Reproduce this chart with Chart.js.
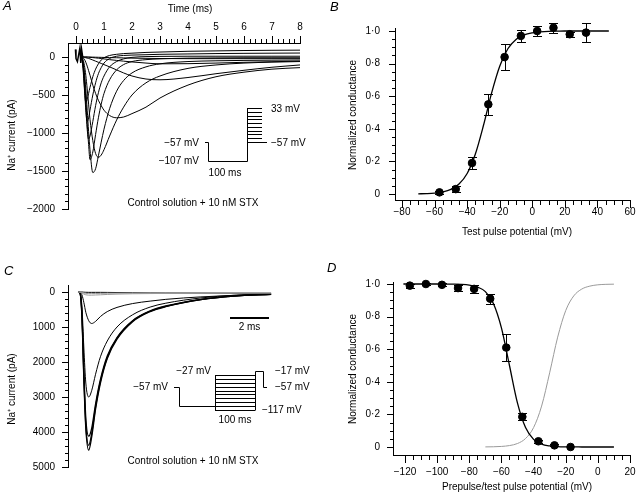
<!DOCTYPE html>
<html>
<head>
<meta charset="utf-8">
<script src="https://cdn.jsdelivr.net/npm/chart.js@4.4.0/dist/chart.umd.min.js"></script>
<style>
  body { margin: 0; background: #fff; }
  #wrap { position: relative; width: 639px; height: 495px; }
  #wrap canvas { position: absolute; left: 0; top: 0; }
  #note { position: absolute; left: 630px; top: 486px; font: 8px monospace; color: #fff; white-space: pre; }
</style>
</head>
<body>
<div id="wrap">
  <canvas id="chartA" width="639" height="495"></canvas>
  <canvas id="chartB" width="639" height="495"></canvas>
  <canvas id="chartC" width="639" height="495"></canvas>
  <canvas id="chartD" width="639" height="495"></canvas>
  <div id="note"></div>
</div>
<script>
// ---- Panel A: Na+ currents, test pulses -57 .. +33 mV (pA vs ms)
const A_T = [0.2, 0.25, 0.3, 0.35, 0.4, 0.45, 0.5, 0.6, 0.7, 0.8, 0.9, 1.0, 1.2, 1.45, 1.7, 2.0, 2.5, 3, 4, 5, 6, 7, 8];
const A_P33  = [0, -150, -420, -600, -560, -480, -400, -260, -160, -90, -40, -10, 20, 35, 45, 50, 60, 65, 75, 80, 85, 88, 90];
const A_P23  = [0, -120, -380, -700, -850, -800, -700, -500, -340, -220, -140, -80, -20, 10, 20, 25, 30, 35, 40, 45, 48, 50, 52];
const A_P13  = [0, -100, -320, -650, -950, -1080, -1040, -850, -640, -470, -340, -250, -130, -60, -25, -5, 5, 8, 10, 10, 10, 10, 10];
const A_P3   = [0, -80, -260, -550, -880, -1150, -1350, -1250, -1020, -800, -620, -480, -300, -170, -100, -60, -35, -25, -15, -12, -10, -10, -10];
const A_M7   = [0, -60, -200, -420, -700, -980, -1220, -1520, -1470, -1300, -1120, -950, -680, -450, -310, -210, -130, -90, -60, -50, -45, -42, -40];
const A_M17  = [0, -30, -110, -240, -420, -620, -820, -1100, -1270, -1320, -1290, -1220, -1040, -830, -660, -500, -340, -250, -150, -105, -80, -68, -60];
const A_M27  = [0, -10, -30, -70, -120, -180, -240, -370, -480, -570, -640, -700, -770, -800, -790, -745, -660, -540, -370, -260, -200, -160, -140];
const A_M37  = [0, 0, -5, -10, -15, -20, -25, -40, -55, -70, -85, -100, -130, -170, -210, -250, -290, -300, -270, -220, -175, -135, -105];
const A_M47  = [0, 0, 0, 0, -2, -3, -5, -8, -12, -16, -20, -25, -35, -45, -55, -65, -80, -90, -88, -80, -70, -62, -55];
const A_M57  = [0, 0, 0, 0, 0, 0, -1, -2, -3, -4, -5, -6, -8, -10, -12, -15, -18, -20, -22, -22, -22, -22, -22];
const A_ART_T = [-0.02, 0.0, 0.05, 0.14, 0.17, 0.2, 0.24];
const A_ART_I = [100, -20, -60, 120, -80, 100, 0];
const A_X_TICKS = [0, 1, 2, 3, 4, 5, 6, 7, 8];
const A_Y_TICKS = [-2000, -1500, -1000, -500, 0];
const A_STEPS = [33, 23, 13, 3, -7, -17, -27, -37, -47, -57];

// ---- Panel B: activation (normalized conductance vs test potential)
const B_V   = [-57, -47, -37, -27, -17, -7, 3, 13, 23, 33];
const B_G   = [0.01, 0.03, 0.19, 0.55, 0.84, 0.97, 1.0, 1.02, 0.98, 0.99];
const B_ERR = [0.01, 0.02, 0.035, 0.065, 0.08, 0.035, 0.028, 0.03, 0.015, 0.06];
const B_FIT_V = [-70, -65, -60, -55, -50, -45, -40, -35, -30, -25, -20, -15, -10, -5, 0, 5, 10, 15, 20, 25, 30, 35, 40, 47];
const B_FIT_G = [0.0011, 0.0026, 0.0057, 0.0127, 0.028, 0.061, 0.126, 0.244, 0.42, 0.619, 0.784, 0.891, 0.948, 0.976, 0.989, 0.995, 0.998, 0.999, 1, 1, 1, 1, 1, 1];
const B_X_TICKS = [-80, -60, -40, -20, 0, 20, 40, 60];
const B_Y_TICKS = [0, 0.2, 0.4, 0.6, 0.8, 1.0];

// ---- Panel C: Na+ currents after prepulses (pA, plotted downward)
const C_T = [0, 0.1, 0.2, 0.3, 0.4, 0.55, 0.7, 0.9, 1.15, 1.5, 2.0, 2.8, 3.7, 4.5, 6.3, 8, 9.9];
const C_I1 = [0, 30, 700, 2500, 3900, 4520, 4150, 3350, 2600, 1900, 1350, 850, 560, 420, 220, 120, 70];
const C_I2 = [0, 30, 650, 2400, 3800, 4380, 4050, 3280, 2550, 1870, 1320, 830, 550, 410, 215, 115, 65];
const C_I3 = [0, 25, 600, 2250, 3600, 4120, 3900, 3200, 2500, 1830, 1300, 820, 540, 400, 210, 110, 65];
const C_I4 = [0, 20, 400, 1600, 2600, 3000, 2820, 2350, 1850, 1400, 1000, 650, 430, 320, 170, 95, 55];
const C_I5 = [0, 5, 80, 300, 580, 820, 900, 840, 700, 560, 440, 330, 260, 210, 140, 95, 60];
const C_I6 = [0, 5, 30, 60, 80, 90, 90, 85, 80, 70, 60, 50, 45, 40, 35, 30, 30];
const C_I7 = [0, 3, 15, 30, 40, 45, 45, 42, 40, 35, 32, 30, 28, 27, 25, 25, 25];
const C_I8 = [0, 0, 0, 5, 8, 10, 10, 10, 10, 12, 15, 20, 25, 28, 30, 35, 40];
const C_Y_TICKS = [0, 1000, 2000, 3000, 4000, 5000];
const C_STEPS = [-27, -37, -47, -57, -67, -77, -87, -97, -107, -117];

// ---- Panel D: inactivation (prepulse) and activation curves
const D_V   = [-117, -107, -97, -87, -77, -67, -57, -47, -37, -27, -17];
const D_G   = [0.99, 1.0, 0.995, 0.975, 0.97, 0.91, 0.61, 0.185, 0.035, 0.01, 0.0];
const D_ERR = [0.012, 0.006, 0.01, 0.018, 0.025, 0.03, 0.085, 0.022, 0.01, 0.006, 0];
const D_FIT_V = [-121, -115, -110, -105, -100, -95, -90, -85, -80, -75, -70, -65, -60, -55, -50, -45, -40, -35, -30, -25, -20, -15, -10, -5, 0, 5, 10];
const D_FIT_G = [1, 1, 1, 1, 1, 0.9995, 0.999, 0.9975, 0.993, 0.982, 0.953, 0.881, 0.731, 0.5, 0.269, 0.119, 0.047, 0.018, 0.0067, 0.0025, 0.0009, 0.0003, 0.0001, 0, 0, 0, 0];
const D_ACT_V = [-70, -65, -60, -55, -50, -45, -40, -35, -30, -25, -20, -15, -10, -5, 0, 5, 10];
const D_ACT_G = [0.0006, 0.0014, 0.0035, 0.0088, 0.0214, 0.052, 0.119, 0.251, 0.455, 0.674, 0.837, 0.927, 0.969, 0.987, 0.995, 0.998, 0.999];
const D_X_TICKS = [-120, -100, -80, -60, -40, -20, 0, 20];
const D_Y_TICKS = [0, 0.2, 0.4, 0.6, 0.8, 1.0];

const FONT = "'Liberation Sans', Arial, Helvetica, sans-serif";
Chart.defaults.font.family = FONT;
Chart.defaults.font.size = 10;
Chart.defaults.color = '#000';

const log = [];
const minus = v => (v < 0 ? '\u2212' + Math.abs(v) : String(v));
const dotted = v => (v === 0 ? '0' : v.toFixed(1).replace('.', '\u00b7'));
const pts = (xs, ys) => xs.map((x, i) => ({ x: x, y: ys[i] }));

function trace(xs, ys, color, width) {
  return {
    data: pts(xs, ys), borderColor: color || '#000', borderWidth: width || 1,
    pointRadius: 0, cubicInterpolationMode: 'monotone', fill: false
  };
}

function dots(xs, ys) {
  return { data: pts(xs, ys), showLine: false, pointRadius: 3.8, pointBackgroundColor: '#000',
           pointBorderColor: '#000', clip: false, order: 1 };
}

// linear scale with fixed box size, ticks taken from an array
function fixedScale(min, max, ticks, fmt, pad, size, extra) {
  return Object.assign({
    type: 'linear', min: min, max: max,
    grid: { display: false, drawTicks: false },
    border: { display: true, color: '#000', width: 1 },
    ticks: { padding: pad, autoSkip: false, maxRotation: 0, minRotation: 0, callback: v => fmt(v) },
    afterBuildTicks: s => { s.ticks = ticks.map(v => ({ value: v })); },
    afterFit: s => {
      if (s.isHorizontal()) s.height = size; else s.width = size;
      s.paddingLeft = s.paddingRight = s.paddingTop = s.paddingBottom = 0;
    }
  }, extra || {});
}

// axis line + major/minor tick marks, drawn as 1px rectangles
function axisLine(ctx, scale, at, from, to, majors, step, majLen, minLen, dir) {
  try {
    const horiz = scale.isHorizontal();
    const pos = Math.round(at);
    ctx.save();
    ctx.fillStyle = '#000';
    const a = scale.getPixelForValue(from), b = scale.getPixelForValue(to);
    const lo = Math.round(Math.min(a, b)), len = Math.round(Math.abs(b - a)) + 1;
    if (horiz) ctx.fillRect(lo, pos, len, 1); else ctx.fillRect(pos, lo, 1, len);
    const first = Math.min(majors[0], majors[majors.length - 1]);
    const count = Math.round(Math.abs(majors[majors.length - 1] - majors[0]) / step);
    for (let i = 0; i <= count; i++) {
      const v = first + i * step;
      const tl = majors.some(m => Math.abs(m - v) < step / 10) ? majLen : minLen;
      const p = Math.round(scale.getPixelForValue(v));
      const start = dir < 0 ? pos - tl : pos + 1;
      if (horiz) ctx.fillRect(p, start, 1, tl); else ctx.fillRect(start, p, tl, 1);
    }
    ctx.restore();
    log.push(scale.id + ' ' + pos);
  } catch (e) { log.push('E ' + e.message); }
  document.getElementById('note').textContent = log.length ? '.' : '';
}

function text(ctx, s, x, y, align, font, rot) {
  ctx.save();
  ctx.font = font || ('10px ' + FONT);
  ctx.fillStyle = '#000';
  ctx.textAlign = align || 'center';
  ctx.textBaseline = 'middle';
  ctx.translate(x, y);
  if (rot) ctx.rotate(rot);
  ctx.fillText(s, 0, 0);
  ctx.restore();
}

function letter(ctx, s, x, y) {
  text(ctx, s, x, y, 'left', 'italic 13px ' + FONT);
}

function errorBars(chart, xs, ys, es) {
  const { ctx, scales: { x, y } } = chart;
  ctx.save();
  ctx.fillStyle = '#000';
  xs.forEach((v, i) => {
    if (!es[i]) return;
    const px = Math.round(x.getPixelForValue(v));
    const t = Math.round(y.getPixelForValue(ys[i] + es[i])), b = Math.round(y.getPixelForValue(ys[i] - es[i]));
    ctx.fillRect(px, t, 1, b - t + 1);
    ctx.fillRect(px - 4, t, 9, 1);
    ctx.fillRect(px - 4, b, 9, 1);
  });
  ctx.restore();
}

function segments(ctx, segs, width) {
  ctx.save();
  ctx.beginPath();
  segs.forEach(s => { ctx.moveTo(s[0], s[1]); ctx.lineTo(s[2], s[3]); });
  ctx.lineWidth = width || 1;
  ctx.strokeStyle = '#000';
  ctx.stroke();
  ctx.restore();
}

// axes for each panel, placed on the scales' own edges
const axesA = c => {
  const { ctx, scales: { x, y } } = c;
  axisLine(ctx, x, x.bottom, 0, 8, A_X_TICKS, 0.2, 7, 4, -1);
  axisLine(ctx, y, y.right, 92, -2000, A_Y_TICKS, 100, 6, 3, -1);
};
const axesB = c => {
  const { ctx, scales: { x, y } } = c;
  axisLine(ctx, x, x.top, -80, 60, B_X_TICKS, 5, 7, 4, 1);
  axisLine(ctx, y, y.right, -0.006, 1.012, B_Y_TICKS, 0.05, 6, 3, -1);
};
const axesC = c => {
  const { ctx, scales: { y } } = c;
  axisLine(ctx, y, y.right, -50, 5000, C_Y_TICKS, 200, 6, 3, -1);
};
const axesD = c => {
  const { ctx, scales: { x, y } } = c;
  axisLine(ctx, x, x.top, -120, 20, D_X_TICKS, 5, 7, 4, 1);
  axisLine(ctx, y, y.right, 0, 1.005, D_Y_TICKS, 0.05, 6, 3, -1);
};

const base = {
  responsive: false, animation: false, devicePixelRatio: 1, events: [],
  plugins: { legend: { display: false }, tooltip: { enabled: false } }
};

// ---------------- A ----------------
new Chart(document.getElementById('chartA'), {
  type: 'line',
  data: {
    datasets: [A_P33, A_P23, A_P13, A_P3, A_M7, A_M17, A_M27, A_M37, A_M47, A_M57]
      .map(v => trace(A_T, v))
      .concat([Object.assign(trace(A_ART_T, A_ART_I), { cubicInterpolationMode: 'default', tension: 0, borderWidth: 1.5 })])
  },
  options: Object.assign({}, base, {
    layout: { padding: { left: 0, top: 0, right: 339, bottom: 286 } },
    scales: {
      x: fixedScale(-0.2857, 8, A_X_TICKS, String, 10, 43, { position: 'top' }),
      y: fixedScale(-2000, 184, A_Y_TICKS, minus, 13, 68)
    }
  }),
  plugins: [{
    id: 'decorA',
    afterDraw(chart) {
      const { ctx } = chart;
      axesA(chart);
      text(ctx, 'Time (ms)', 190, 9);
      text(ctx, 'Na\u207a current (pA)', 12, 135, 'center', null, -Math.PI / 2);
      text(ctx, 'Control solution + 10 nM STX', 193, 203);
      letter(ctx, 'A', 3, 6);
      // voltage protocol inset
      const mv = v => Math.round(142 - (v + 57) * 0.378) + 0.5;
      const segs = [[205, mv(-57), 208.5, mv(-57)], [208.5, mv(-57), 208.5, mv(-107)],
                    [208.5, mv(-107), 247.5, mv(-107)], [247.5, mv(-107), 247.5, mv(33)]];
      A_STEPS.forEach(v => segs.push([247, mv(v), 262, mv(v)]));
      segs.push([262, mv(-57), 267, mv(-57)]);
      segments(ctx, segs);
      text(ctx, '\u221257 mV', 199, 143, 'right');
      text(ctx, '\u2212107 mV', 199, 161, 'right');
      text(ctx, '100 ms', 225, 173);
      text(ctx, '33 mV', 271, 109, 'left');
      text(ctx, '\u221257 mV', 271, 143, 'left');
    }
  }]
});

// ---------------- B ----------------
new Chart(document.getElementById('chartB'), {
  type: 'line',
  data: {
    datasets: [
      Object.assign(trace(B_FIT_V, B_FIT_G, '#000', 1.3), { order: 2 }),
      dots(B_V, B_G)
    ]
  },
  options: Object.assign({}, base, {
    layout: { padding: { left: 340, top: 28, right: 9, bottom: 255 } },
    scales: {
      x: fixedScale(-84.3, 60, B_X_TICKS, minus, 6, 40),
      y: fixedScale(-0.0368, 1.0184, B_Y_TICKS, dotted, 15, 55)
    }
  }),
  plugins: [{
    id: 'decorB',
    beforeDatasetsDraw(chart) { errorBars(chart, B_V, B_G, B_ERR); },
    afterDraw(chart) {
      const { ctx } = chart;
      axesB(chart);
      text(ctx, 'Normalized conductance', 353, 115, 'center', null, -Math.PI / 2);
      text(ctx, 'Test pulse potential (mV)', 517, 232);
      letter(ctx, 'B', 330, 7);
    }
  }]
});

// ---------------- C ----------------
new Chart(document.getElementById('chartC'), {
  type: 'line',
  data: {
    datasets: [
      trace(C_T, C_I6, '#999'), trace(C_T, C_I7, '#999'), trace(C_T, C_I8),
      trace(C_T, C_I5), trace(C_T, C_I4), trace(C_T, C_I3, '#000', 1.3),
      trace(C_T, C_I2, '#000', 1.3), trace(C_T, C_I1, '#000', 1.3)
    ]
  },
  options: Object.assign({}, base, {
    layout: { padding: { left: 0, top: 285, right: 364, bottom: 28 } },
    scales: {
      x: { type: 'linear', min: -0.513, max: 10.1, display: false },
      y: fixedScale(-200, 5000, C_Y_TICKS, String, 13, 68, { reverse: true })
    }
  }),
  plugins: [{
    id: 'decorC',
    afterDraw(chart) {
      const { ctx, scales: { x } } = chart;
      axesC(chart);
      text(ctx, 'Na\u207a current (pA)', 12, 389, 'center', null, -Math.PI / 2);
      text(ctx, 'Control solution + 10 nM STX', 193, 461);
      letter(ctx, 'C', 4, 271);
      // 2 ms scale bar on the time scale
      const x0 = Math.round(x.getPixelForValue(7.8)), x1 = Math.round(x.getPixelForValue(9.8));
      ctx.save();
      ctx.fillStyle = '#000';
      ctx.fillRect(x0, 317, x1 - x0, 2);
      ctx.restore();
      text(ctx, '2 ms', (x0 + x1) / 2, 327);
      // voltage protocol inset
      const mv = v => Math.round(386.7 - (v + 57) * 0.389) + 0.5;
      const segs = [[174, mv(-57), 179.5, mv(-57)], [179.5, mv(-57), 179.5, mv(-107)],
                    [179.5, mv(-107), 215.5, mv(-107)], [215.5, mv(-117), 215.5, mv(-27)],
                    [255.5, mv(-117), 255.5, mv(-17)], [255.5, mv(-17), 263.5, mv(-17)],
                    [263.5, mv(-17), 263.5, mv(-57)], [263.5, mv(-57), 267, mv(-57)]];
      C_STEPS.forEach(v => segs.push([215, mv(v), 255, mv(v)]));
      segments(ctx, segs);
      text(ctx, '\u221257 mV', 168, 387, 'right');
      text(ctx, '\u221227 mV', 211, 371, 'right');
      text(ctx, '\u221217 mV', 275, 371, 'left');
      text(ctx, '\u221257 mV', 275, 387, 'left');
      text(ctx, '\u2212117 mV', 262, 410, 'left');
      text(ctx, '100 ms', 235, 420);
    }
  }]
});

// ---------------- D ----------------
new Chart(document.getElementById('chartD'), {
  type: 'line',
  data: {
    datasets: [
      Object.assign(trace(D_ACT_V, D_ACT_G, '#9a9a9a', 1), { order: 3 }),
      Object.assign(trace(D_FIT_V, D_FIT_G, '#000', 1.3), { order: 2 }),
      dots(D_V, D_G)
    ]
  },
  options: Object.assign({}, base, {
    layout: { padding: { left: 340, top: 282, right: 9, bottom: 10 } },
    scales: {
      x: fixedScale(-127.47, 20, D_X_TICKS, minus, 11, 30),
      y: fixedScale(-0.0491, 1.0123, D_Y_TICKS, dotted, 13, 53)
    }
  }),
  plugins: [{
    id: 'decorD',
    beforeDatasetsDraw(chart) { errorBars(chart, D_V, D_G, D_ERR); },
    afterDraw(chart) {
      const { ctx } = chart;
      axesD(chart);
      text(ctx, 'Normalized conductance', 353, 369, 'center', null, -Math.PI / 2);
      text(ctx, 'Prepulse/test pulse potential (mV)', 517, 487);
      letter(ctx, 'D', 327, 268);
    }
  }]
});
</script>
</body>
</html>
